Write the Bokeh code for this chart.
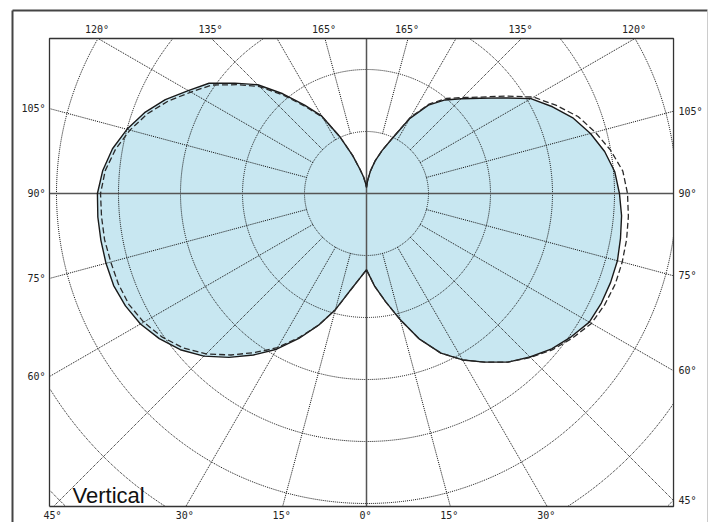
import numpy as np
from bokeh.plotting import figure
from bokeh.models import Range1d
from bokeh.embed import file_html
from bokeh.resources import INLINE
from bokeh.core.properties import value

# ---------------- data (relative field strength, grid rings every 10 units) ----------------
angles = list(range(0, 181, 5))  # elevation angle measured from straight down (0) to straight up (180)

right_solid = [12.3, 15.0, 17.7, 21.1, 25.0, 28.4, 31.0, 33.2, 35.5, 37.3, 39.0, 40.3, 41.5,
               41.8, 41.9, 41.9, 41.6, 41.3, 40.8, 40.2, 39.0, 37.4, 35.5, 33.1, 30.6, 26.9,
               23.9, 21.6, 19.7, 17.4, 14.0, 9.8, 7.4, 5.5, 3.7, 2.1, 1.0]
right_dashed = [12.3, 15.0, 17.7, 21.1, 25.0, 28.4, 31.0, 33.2, 35.5, 37.4, 39.2, 40.6, 41.9,
                42.4, 42.7, 42.7, 42.6, 42.4, 42.1, 41.5, 40.0, 38.2, 36.3, 33.7, 31.1, 27.4,
                24.2, 21.9, 20.0, 17.6, 14.2, 9.8, 7.4, 5.5, 3.7, 2.1, 1.0]
left_solid = [12.3, 13.9, 16.1, 19.4, 22.6, 25.8, 29.0, 31.8, 34.5, 37.1, 39.2, 40.8, 42.1,
              42.9, 43.4, 43.5, 43.5, 43.5, 43.4, 42.7, 41.6, 40.0, 38.1, 35.8, 33.2, 31.0,
              27.7, 24.8, 21.0, 17.4, 14.4, 10.0, 6.5, 4.0, 2.7, 1.6, 1.0]
left_dashed = [12.3, 13.9, 16.1, 19.4, 22.6, 25.6, 28.7, 31.3, 34.0, 36.6, 38.7, 40.3, 41.5,
               42.3, 42.6, 42.7, 42.9, 42.9, 42.9, 42.3, 41.1, 39.5, 37.6, 35.3, 32.7, 30.5,
               27.3, 24.4, 20.6, 17.1, 14.2, 10.0, 6.5, 4.0, 2.7, 1.6, 1.0]

ring_values = [10, 20, 30, 40, 50, 60, 70]
spoke_angles = [15, 30, 45, 60, 75, 105, 120, 135, 150, 165]
label_angles_left = [15, 30, 45, 60, 75, 90, 105, 120, 135, 165]
label_angles_right = [15, 30, 45, 60, 75, 90, 105, 120, 135, 165]
label_angles_center = [0]
title_text = "Vertical"

# ---------------- layout ----------------
SCALE = 6.2                      # pixels per data unit
FX0, FX1, FY0, FY1 = -51.13, 49.52, -50.48, 25.0   # plot frame (data units)
W, H = 708, 522
XR = (-366 / SCALE, (W - 366) / SCALE)
YR = ((193 - H) / SCALE, 193 / SCALE)

p = figure(width=W, height=H, output_backend="svg", toolbar_location=None,
           x_range=Range1d(*XR), y_range=Range1d(*YR), min_border=0)
p.axis.visible = False
p.grid.visible = False
p.outline_line_color = None
p.background_fill_color = "white"
p.border_fill_color = "white"


def polar_xy(theta_deg, r, side):
    t = np.radians(np.asarray(theta_deg, dtype=float))
    r = np.asarray(r, dtype=float)
    return side * r * np.sin(t), -r * np.cos(t)


def closed_loop(rs_right, rs_left):
    xr, yr = polar_xy(angles, rs_right, 1)
    xl, yl = polar_xy(angles[::-1], rs_left[::-1], -1)
    xs = np.concatenate([xr, xl, xr[:1]])
    ys = np.concatenate([yr, yl, yr[:1]])
    return xs, ys


# pattern fill
sx, sy = closed_loop(right_solid, left_solid)
p.patch(sx, sy, fill_color="#c8e7f1", line_color=None)

# grid rings (clipped to frame)
DOT = dict(line_color="#111111", line_width=1, line_dash="1 1")
tt = np.linspace(0, 2 * np.pi, 1441)
for R in ring_values:
    gx = R * np.sin(tt)
    gy = R * np.cos(tt)
    outside = (gx < FX0) | (gx > FX1) | (gy < FY0) | (gy > FY1)
    gx = np.where(outside, np.nan, gx)
    gy = np.where(outside, np.nan, gy)
    p.line(gx, gy, **DOT)


def ray_hit(a_deg, side):
    a = np.radians(a_deg)
    dx, dy = side * np.sin(a), -np.cos(a)
    ts = []
    if abs(dx) > 1e-9:
        ts.append((FX1 if dx > 0 else FX0) / dx)
    if abs(dy) > 1e-9:
        ts.append((FY1 if dy > 0 else FY0) / dy)
    t = min(ts)
    return t * dx, t * dy, dx, dy


# spokes from the inner ring out to the frame
inner = ring_values[0]
for side in (-1, 1):
    for a in spoke_angles:
        hx, hy, dx, dy = ray_hit(a, side)
        p.line([inner * dx, hx], [inner * dy, hy], **DOT)

# main axes (90 deg horizontal, 0/180 vertical)
p.line([FX0, FX1], [0, 0], line_color="#555555", line_width=1.5)
p.line([0, 0], [FY0, FY1], line_color="#555555", line_width=1.5)

# pattern outlines
p.line(sx, sy, line_color="#1a1a1a", line_width=1.4)
dx_, dy_ = closed_loop(right_dashed, left_dashed)
p.line(dx_, dy_, line_color="#2a2a2a", line_width=1.3, line_dash="6 3")

# plot frame
p.line([FX0, FX1, FX1, FX0, FX0], [FY0, FY0, FY1, FY1, FY0],
       line_color="#333333", line_width=1.3)

# outer border of the picture
TOPB = (193 - 10) / SCALE
LEFTB = (12 - 366) / SCALE
RIGHTB = XR[1] - 1 / SCALE
p.line([LEFTB, RIGHTB], [TOPB, TOPB], line_color="#444444", line_width=2)
p.line([LEFTB, LEFTB], [TOPB, YR[0]], line_color="#444444", line_width=2)
p.line([RIGHTB, RIGHTB], [TOPB, YR[0]], line_color="#cccccc", line_width=1)

# angle labels where the spokes meet the frame
groups = {"left": ([], [], []), "right": ([], [], []), "top": ([], [], []), "bottom": ([], [], [])}
specs = [(a, -1) for a in label_angles_left] + [(a, 1) for a in label_angles_right] + \
        [(a, 1) for a in label_angles_center]
for a, side in specs:
    hx, hy, _, _ = ray_hit(a, side)
    if abs(hy - FY1) < 1e-6:
        key, lx, ly = "top", hx - 1 / SCALE, FY1 + 9 / SCALE
    elif abs(hy - FY0) < 1e-6:
        key, lx, ly = "bottom", hx - 1 / SCALE, FY0 - 9 / SCALE
    elif abs(hx - FX0) < 1e-6:
        key, lx, ly = "left", FX0 - 4 / SCALE, hy
    else:
        key, lx, ly = "right", FX1 + 5 / SCALE, hy
    groups[key][0].append(lx)
    groups[key][1].append(ly)
    groups[key][2].append(f"{a}\u00b0")

align = {"left": "right", "right": "left", "top": "center", "bottom": "center"}
for key, (lx, ly, lt) in groups.items():
    if lx:
        p.text(x=lx, y=ly, text=lt, text_font=value("DejaVu Sans Mono"),
               text_font_size="10px", text_color="#222222",
               text_align=align[key], text_baseline="middle")

# title
p.text(x=[(72 - 366) / SCALE], y=[(193 - 495) / SCALE], text=[title_text],
       text_font=value("Liberation Sans"), text_font_size="22px",
       text_color="#111111", text_align="left", text_baseline="alphabetic")

open("out.html", "w").write(file_html(p, INLINE))
